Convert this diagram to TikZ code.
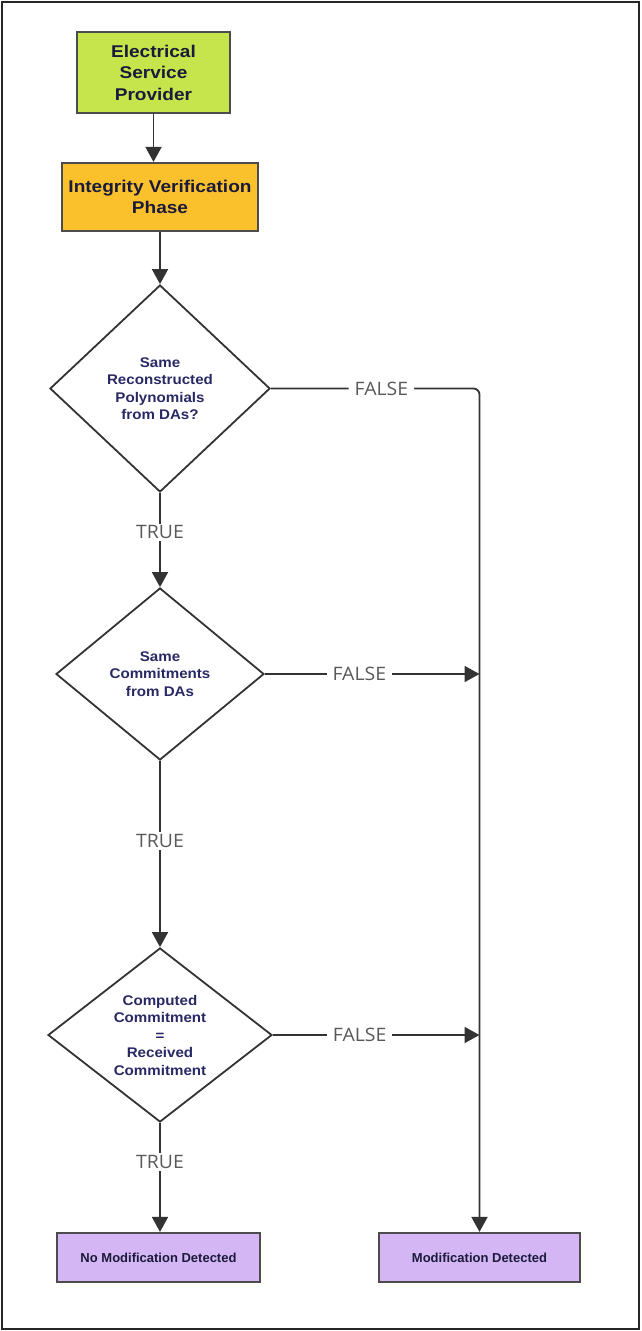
\documentclass[tikz,border=0pt]{standalone}
\usepackage{fontspec}
\setmainfont{Liberation Sans}
\newfontfamily\boxfont[FakeStretch=1.12]{Liberation Sans}
\newfontfamily\qfont[FakeStretch=1.08]{Liberation Sans}
\newfontfamily\lblfont[FakeStretch=1.05]{Open Sans}
\usetikzlibrary{shapes.geometric,arrows.meta,positioning}
\definecolor{espgreen}{RGB}{198,228,76}
\definecolor{phaseorange}{RGB}{251,193,45}
\definecolor{resultlilac}{RGB}{213,182,245}
\definecolor{boxink}{RGB}{26,26,58}
\definecolor{qnavy}{RGB}{40,40,100}

\begin{document}
\begin{tikzpicture}[x=1pt,y=-1pt,
box/.style={draw=black!70, line width=2.2pt, inner sep=0pt, align=center,
  text=boxink, font=\boxfont\bfseries\fontsize{17}{21.5}\selectfont},
decision/.style={diamond, draw=black!80, line width=1.8pt, inner sep=0pt,
  align=center, text=qnavy, font=\qfont\bfseries\fontsize{14}{17.5}\selectfont},
arr/.style={draw=black!80, line width=1.8pt, -{Triangle[length=15pt,width=16pt]}},
lbl/.style={fill=white, text=black!65, inner xsep=6pt, inner ysep=2pt,
  font=\lblfont\fontsize{18.5}{20}\selectfont},
]
\useasboundingbox (0,0) rectangle (642,1331);
\draw[black!85, line width=1.5pt] (2,2) rectangle (639,1329); % рамка

% блоки
\node[box, fill=espgreen, minimum width=153, minimum height=81]
  (esp) at (153.5,72.5) {Electrical\\Service\\Provider};
\node[box, fill=phaseorange, minimum width=196, minimum height=68]
  (phase) at (160,197) {Integrity Verification\\Phase};

% проверки
\node[decision, minimum width=220, minimum height=207]
  (poly) at (160,388.5) {Same\\Reconstructed\\Polynomials\\from DAs?};
\node[decision, minimum width=208, minimum height=172]
  (commit) at (160,674) {Same\\Commitments\\from DAs};
\node[decision, minimum width=224, minimum height=174]
  (check) at (160,1035) {Computed\\Commitment\\=\\Received\\Commitment};

% результаты
\node[box, fill=resultlilac, minimum width=203, minimum height=49,
  font=\bfseries\fontsize{13}{15}\selectfont]
  (nomod) at (158.5,1257.5) {No Modification Detected};
\node[box, fill=resultlilac, minimum width=201, minimum height=49,
  font=\bfseries\fontsize{13}{15}\selectfont]
  (mod) at (479.5,1257.5) {Modification Detected};

% стрелки
\draw[arr] (esp) -- (esp.south |- phase.north);
\draw[arr] (phase.south -| poly.north) -- (poly.north);
\draw[arr] (poly.south) -- node[lbl, pos=0.42] {TRUE} (commit.north);
\draw[arr] (commit.south) -- node[lbl, pos=0.43] {TRUE} (check.north);
\draw[arr] (check.south) -- node[lbl, pos=0.36] {TRUE} (nomod.north -| check.south);

% ветки FALSE
\draw[arr, rounded corners=6pt] (poly.east)
  -- node[lbl, pos=0.53] {FALSE} (poly.east -| mod.north) -- (mod.north);
\draw[arr] (commit.east) -- node[lbl, pos=0.44] {FALSE} (commit.east -| mod.north);
\draw[arr] (check.east) -- node[lbl, pos=0.42] {FALSE} (check.east -| mod.north);
\end{tikzpicture}
\end{document}
